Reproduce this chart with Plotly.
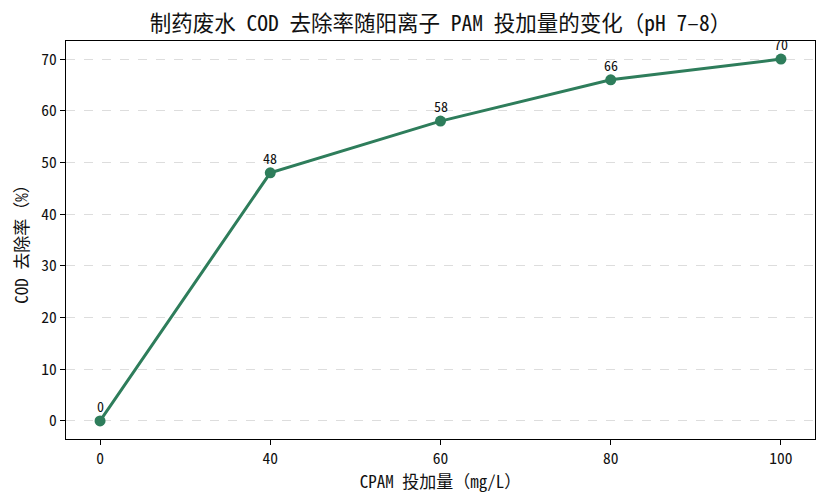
import plotly.graph_objects as go

# CPAM 投加量 (mg/L) 与 COD 去除率 (%)
dose_labels = ["0", "40", "60", "80", "100"]
cod_removal = [0, 48, 58, 66, 70]
y_ticks = [0, 10, 20, 30, 40, 50, 60, 70]

green = "#2e7d5b"
hei = "Noto Sans Mono CJK SC, Noto Sans CJK SC, sans-serif"

fig = go.Figure()
fig.add_trace(go.Scatter(
    x=dose_labels, y=cod_removal,
    mode="lines+markers",
    line=dict(color=green, width=3),
    marker=dict(color=green, size=11),
    showlegend=False,
))

# 数据标签（类别轴上用类别序号定位）
for i, yv in enumerate(cod_removal):
    fig.add_annotation(
        x=i, y=yv, text=str(yv), showarrow=False,
        yanchor="bottom", yshift=3,
        font=dict(family=hei, size=14, color="#111"),
    )

axis_config = dict(
    showline=True, linewidth=1.2, linecolor="black", mirror=True,
    ticks="outside", ticklen=5, tickcolor="black", zeroline=False,
    automargin=False,
)

fig.update_xaxes(
    type="category", range=[-0.2, 4.2], showgrid=False,
    tickfont=dict(family=hei, size=15.5, color="#111"),
    title=dict(text="CPAM 投加量（mg/L）", font=dict(family=hei, size=17, color="#111"), standoff=7),
    **axis_config,
)
fig.update_yaxes(
    range=[-3.5, 73.5], tickvals=y_ticks,
    showgrid=True, gridcolor="#dddddd", griddash="dash", gridwidth=1,
    tickfont=dict(family=hei, size=15.5, color="#111"),
    title=dict(text="COD 去除率（%）", font=dict(family=hei, size=17, color="#111"), standoff=8),
    **axis_config,
)

# 页面 body 有 8px 默认边距，画布尺寸相应缩小
fig.update_layout(
    width=820, height=496,
    paper_bgcolor="white", plot_bgcolor="white",
    margin=dict(l=58, r=13, t=33, b=65),
    title=dict(
        text="制药废水 COD 去除率随阳离子 PAM 投加量的变化（pH 7–8）",
        font=dict(family=hei, size=21.5, color="#111"),
        x=0.5, xref="paper", xanchor="center", y=0.968, yanchor="middle",
    ),
)

fig.write_html("out.html")
